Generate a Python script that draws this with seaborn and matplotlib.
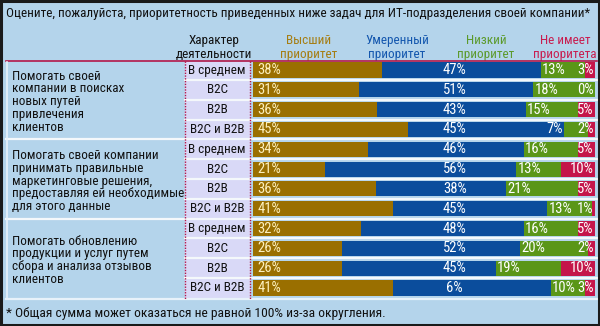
import numpy as np
import pandas as pd
import matplotlib
matplotlib.use("Agg")
import matplotlib.pyplot as plt
from matplotlib import font_manager
import seaborn as sns

# ---------------- data ----------------
title = "Оцените, пожалуйста, приоритетность приведенных ниже задач для ИТ-подразделения своей компании*"
footnote = "* Общая сумма может оказаться не равной 100% из-за округления."
col_header = "Характер\nдеятельности"
series_names = ["Высший\nприоритет", "Умеренный\nприоритет", "Низкий\nприоритет", "Не имеет\nприоритета"]

groups = [
    "Помогать своей\nкомпании в поисках\nновых путей\nпривлечения\nклиентов",
    "Помогать своей компании\nпринимать правильные\nмаркетинговые решения,\nпредоставляя ей необходимые\nдля этого данные",
    "Помогать обновлению\nпродукции и услуг путем\nсбора и анализа отзывов\nклиентов",
]
subcats = ["В среднем", "B2C", "B2B", "B2C и B2B"]

high = [38, 31, 36, 45, 34, 21, 36, 41, 32, 26, 26, 41]
moderate = [47, 51, 43, 45, 46, 56, 38, 45, 48, 52, 45, 46]
low = [13, 18, 15, 7, 16, 13, 21, 13, 16, 20, 19, 10]
none_ = [3, 0, 5, 2, 5, 10, 5, 1, 5, 2, 10, 3]
# printed labels (the reference prints "6%" for the last moderate value)
moderate_labels = ["47%", "51%", "43%", "45%", "46%", "56%", "38%", "45%", "48%", "52%", "45%", "6%"]

# ---------------- style ----------------
BG = "#b4d4eb"
LAV = "#d9d9f7"
CRIMSON = "#b3184a"
C_HIGH, C_MOD, C_LOW, C_NONE = "#9a6f00", "#0b4d9c", "#5a9618", "#c4154a"
HDR_COLORS = ["#a57d12", "#1457ae", "#5c9a2c", "#c81d50"]

avail = {f.name for f in font_manager.fontManager.ttflist}
FONT = "DejaVu Sans"
for cand in ["Liberation Sans Narrow", "DejaVu Sans Condensed", "Roboto Condensed", "Liberation Sans"]:
    if cand in avail:
        FONT = cand
        break
plt.rcParams["font.family"] = [FONT, "DejaVu Sans"]
FS = 9.5
FSB = 10.5

W, H = 600, 326
fig = plt.figure(figsize=(W / 100, H / 100), dpi=100)
fig.patch.set_facecolor(BG)

ax = fig.add_axes([0, 0, 1, 1])
ax.set_xlim(0, W)
ax.set_ylim(H, 0)
ax.axis("off")

n = len(high)
top, bot = 60.1, 297.9
pitch = (bot - top) / n
centers = [top + pitch * (i + 0.5) for i in range(n)]

# outer border
ax.add_patch(plt.Rectangle((1, 1), W - 2, H - 2, fill=False, ec="#1a1a1a", lw=2.2, zorder=10))

# title and headers
ax.text(6, 13, title, fontsize=FS, ha="left", va="center", color="#111111")
ax.text(214, 47.5, col_header, fontsize=FS, ha="center", va="center", color="#111111", linespacing=1.15)
for xc, name, c in zip([309, 397, 486, 565], series_names, HDR_COLORS):
    ax.text(xc, 47.5, name, fontsize=FS, ha="center", va="center", color=c, linespacing=1.15)

# table frame
ax.plot([6, 597], [61, 61], color=CRIMSON, lw=1.2, zorder=3)
ax.plot([6.5, 6.5], [62, bot + 1], color="#e8f2fa", lw=1.2, zorder=3)
ax.plot([6, 597], [bot + 1, bot + 1], color="#e8f2fa", lw=1.6, zorder=3)

# lavender sub-category column
ax.add_patch(plt.Rectangle((185, 62), 64, bot - 62, color=LAV, zorder=1))
for k in range(1, n):
    y = top + k * pitch
    x0 = 6 if k % 4 == 0 else 185
    ax.plot([x0, 597], [y, y], color="#f4f8fb", lw=1.6, zorder=2)
for xv in (184.5, 249.5):
    ax.plot([xv, xv], [61, bot + 1], color=CRIMSON, lw=1.0, ls=(0, (1, 1)), zorder=4)

# group labels and sub-category labels
for g, text in enumerate(groups):
    yc = (centers[4 * g] + centers[4 * g + 3]) / 2 + 2
    ax.text(12, yc, text, fontsize=FS, ha="left", va="center", color="#111111", linespacing=0.98)
for i in range(n):
    ax.text(217, centers[i], subcats[i % 4], fontsize=FS, ha="center", va="center", color="#111111")

ax.text(6, 313, footnote, fontsize=9.7, ha="left", va="center", color="#111111")

# ---------------- stacked bars via seaborn ----------------
df = pd.DataFrame({"row": [f"r{i}" for i in range(n)],
                   "high": high, "moderate": moderate, "low": low, "none": none_})
tot = df[["high", "moderate", "low", "none"]].sum(axis=1)
for c in ["high", "moderate", "low", "none"]:
    df[c + "_n"] = df[c] / tot * 100
df["c1"] = df["high_n"]
df["c2"] = df["c1"] + df["moderate_n"]
df["c3"] = df["c2"] + df["low_n"]
df["c4"] = df["c3"] + df["none_n"]

x0, x1 = 253, 595
axb = fig.add_axes([x0 / W, 1 - bot / H, (x1 - x0) / W, (bot - top) / H])
axb.patch.set_alpha(0)
order = list(df["row"])
for col, color in [("c4", C_NONE), ("c3", C_LOW), ("c2", C_MOD), ("c1", C_HIGH)]:
    sns.barplot(data=df, x=col, y="row", order=order, orient="h", color=color,
                width=0.76, errorbar=None, saturation=1, ax=axb, linewidth=0)
axb.set_xlim(0, 100)
axb.set_ylim(n - 0.5, -0.5)
axb.axis("off")

for i in range(n):
    axb.text(1.2, i, f"{high[i]}%", fontsize=FSB, ha="left", va="center", color="#fdf0bd")
    axb.text(59, i, moderate_labels[i], fontsize=FSB, ha="center", va="center", color="white")
    gx = df["c2"][i]
    if df["low_n"][i] < 8:
        axb.text(gx - 0.3, i, f"{low[i]}%", fontsize=FSB, ha="right", va="center", color="white")
    else:
        axb.text(gx + 0.4, i, f"{low[i]}%", fontsize=FSB, ha="left", va="center", color="white")
    axb.text(99.6, i, f"{none_[i]}%", fontsize=FSB, ha="right", va="center", color="white")

fig.savefig("out.png", dpi=100, facecolor=BG)
